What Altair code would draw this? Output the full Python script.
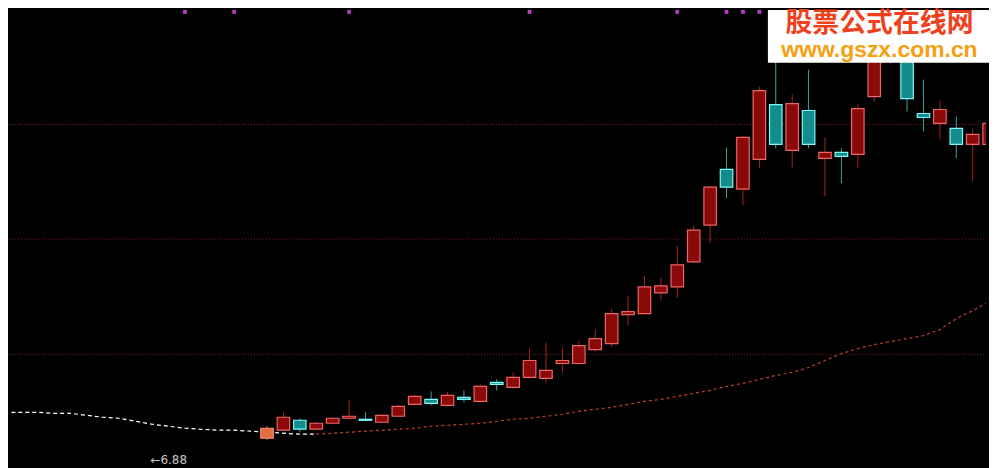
import altair as alt
import pandas as pd

# ---- candle data (index 0..44) ----
opens = [6.92, 7.08, 7.28, 7.10, 7.22, 7.32, 7.30, 7.24, 7.36, 7.60,
         7.70, 7.58, 7.74, 7.66, 8.04, 7.94, 8.14, 8.12, 8.42, 8.42,
         8.70, 8.82, 9.40, 9.42, 9.84, 9.96, 10.46, 11.20, 12.32, 11.92,
         12.52, 13.62, 12.70, 13.50, 12.54, 12.66, 12.62, 13.78, 14.78, 14.88,
         13.44, 13.24, 13.14, 12.82, 12.82]
highs = [7.16, 7.44, 7.32, 7.24, 7.34, 7.68, 7.44, 7.40, 7.58, 7.80,
         7.86, 7.84, 7.88, 8.00, 8.10, 8.24, 8.72, 8.84, 8.74, 8.88,
         9.10, 9.52, 9.78, 10.18, 10.14, 10.78, 11.20, 11.98, 12.76, 12.98,
         13.98, 14.48, 13.82, 14.32, 12.96, 12.74, 13.62, 15.18, 15.52, 15.08,
         14.12, 13.70, 13.38, 13.14, 13.34]
lows = [6.88, 7.06, 7.04, 7.08, 7.20, 7.30, 7.26, 7.22, 7.34, 7.58,
        7.58, 7.56, 7.64, 7.64, 7.88, 7.92, 8.12, 8.02, 8.24, 8.40,
        8.66, 8.76, 9.18, 9.40, 9.68, 9.74, 10.44, 10.84, 11.74, 11.60,
        12.34, 12.74, 12.36, 12.74, 11.78, 12.04, 12.34, 13.68, 14.44, 13.48,
        13.08, 12.92, 12.54, 12.08, 12.78]
closes = [7.12, 7.34, 7.10, 7.22, 7.32, 7.36, 7.28, 7.38, 7.56, 7.76,
          7.62, 7.78, 7.70, 7.96, 8.00, 8.14, 8.48, 8.28, 8.48, 8.78,
          8.92, 9.42, 9.46, 9.96, 9.98, 10.40, 11.10, 11.96, 11.96, 12.96,
          13.90, 12.82, 13.64, 12.82, 12.66, 12.58, 13.54, 14.98, 15.38, 13.74,
          13.36, 13.52, 12.82, 13.02, 13.24]

# ---- moving average line (index -16..44) ----
ma_start = -16
ma_values = [7.44, 7.44, 7.44, 7.42, 7.42, 7.38, 7.34, 7.32, 7.26, 7.20,
             7.16, 7.12, 7.10, 7.08, 7.08, 7.06,
             7.04, 7.02, 7.00, 7.00, 7.02, 7.04, 7.06, 7.08, 7.10, 7.12,
             7.16, 7.18, 7.20, 7.22, 7.26, 7.30, 7.32, 7.36, 7.40, 7.46,
             7.50, 7.54, 7.60, 7.66, 7.70, 7.76, 7.82, 7.88, 7.96, 8.02,
             8.10, 8.18, 8.24, 8.34, 8.48, 8.62, 8.72, 8.80, 8.86, 8.92,
             8.98, 9.10, 9.32, 9.48, 9.66]
white_until = 3

# ---- signal markers, grid levels, low label ----
marker_idx = [-5, -2, 5, 16, 25, 28, 29, 30]
marker_price = 15.48
grid_levels = [13.22, 10.92, 8.60]
low_label = "←6.88"
low_label_pos = (-7.1, 6.48)

wm_title = "股票公式在线网"
wm_url = "www.gszx.com.cn"

# ---- tables ----
n = len(opens)
df = pd.DataFrame({"i": list(range(n)), "open": opens, "high": highs,
                   "low": lows, "close": closes})
df["kind"] = ["up" if c >= o else "down" for o, c in zip(opens, closes)]
df.loc[0, "kind"] = "first"
df["xl"] = df["i"] - 0.38
df["xr"] = df["i"] + 0.38

ma = pd.DataFrame({"i": list(range(ma_start, ma_start + len(ma_values))),
                   "v": ma_values})
ma_white = ma[ma["i"] <= white_until]
ma_red = ma[ma["i"] >= white_until]

marks_df = pd.DataFrame({"i": marker_idx, "v": [marker_price] * len(marker_idx)})
grid_df = pd.DataFrame({"v": grid_levels})
label_df = pd.DataFrame({"i": [low_label_pos[0]], "v": [low_label_pos[1]], "t": [low_label]})

W, H = 981, 460
xs = alt.Scale(domain=[-15.72, 43.81], nice=False, zero=False)
ys = alt.Scale(domain=[6.32, 15.52], nice=False, zero=False)

kinds = ["up", "down", "first"]
fill_sc = alt.Scale(domain=kinds, range=["#8a0a0a", "#158c8c", "#e0703e"])
stroke_sc = alt.Scale(domain=kinds, range=["#f06464", "#7ef8f8", "#ff8a6a"])
wick_sc = alt.Scale(domain=kinds, range=["#a82424", "#3aa6a6", "#ff7050"])

grid = alt.Chart(grid_df).mark_rule(color="#8a2020", strokeDash=[1, 2], strokeWidth=1).encode(
    y=alt.Y("v:Q", scale=ys, axis=None),
    x=alt.value(0), x2=alt.value(W))

line_w = alt.Chart(ma_white).mark_line(color="#ffffff", strokeDash=[4, 3], strokeWidth=1.2, clip=True).encode(
    x=alt.X("i:Q", scale=xs, axis=None), y=alt.Y("v:Q", scale=ys, axis=None))
line_r = alt.Chart(ma_red).mark_line(color="#c04030", strokeDash=[3, 3], strokeWidth=1.2, clip=True).encode(
    x=alt.X("i:Q", scale=xs, axis=None), y=alt.Y("v:Q", scale=ys, axis=None))

base = alt.Chart(df)
wicks = base.mark_rule(strokeWidth=1, clip=True).encode(
    x=alt.X("i:Q", scale=xs, axis=None),
    y=alt.Y("low:Q", scale=ys, axis=None), y2="high:Q",
    color=alt.Color("kind:N", scale=wick_sc, legend=None))
bodies = base.mark_rect(strokeWidth=1.2, clip=True).encode(
    x=alt.X("xl:Q", scale=xs, axis=None), x2="xr:Q",
    y=alt.Y("open:Q", scale=ys, axis=None), y2="close:Q",
    fill=alt.Fill("kind:N", scale=fill_sc, legend=None),
    stroke=alt.Stroke("kind:N", scale=stroke_sc, legend=None))

pts = alt.Chart(marks_df).mark_point(shape="cross", angle=45, filled=True, size=22, color="#c040c8", opacity=1).encode(
    x=alt.X("i:Q", scale=xs, axis=None), y=alt.Y("v:Q", scale=ys, axis=None))

lbl = alt.Chart(label_df).mark_text(align="left", baseline="middle", fontSize=12,
                                    font="DejaVu Sans", color="#c8c8c8").encode(
    x=alt.X("i:Q", scale=xs, axis=None), y=alt.Y("v:Q", scale=ys, axis=None), text="t:N")

one = pd.DataFrame({"k": [0]})
wm_box = alt.Chart(one).mark_rect(color="#ffffff").encode(
    x=alt.value(762), x2=alt.value(984), y=alt.value(0), y2=alt.value(53))
wm_t1 = alt.Chart(one).mark_text(text=wm_title, fontSize=27, fontWeight="bold",
                                 font="Noto Sans CJK SC", color="#f0401c",
                                 align="center", baseline="middle").encode(
    x=alt.value(874), y=alt.value(14))
wm_t2 = alt.Chart(one).mark_text(text=wm_url, fontSize=23, fontWeight="bold",
                                 font="Liberation Sans", color="#f4a010",
                                 align="center", baseline="alphabetic").encode(
    x=alt.value(874), y=alt.value(47))

chart = alt.layer(grid, line_w, line_r, wicks, bodies, pts, lbl, wm_box, wm_t1, wm_t2).properties(
    width=W, height=H, padding=0, background="#000000"
).configure_view(strokeWidth=0)

chart.save("out.html", embed_options={"renderer": "svg", "actions": False})
